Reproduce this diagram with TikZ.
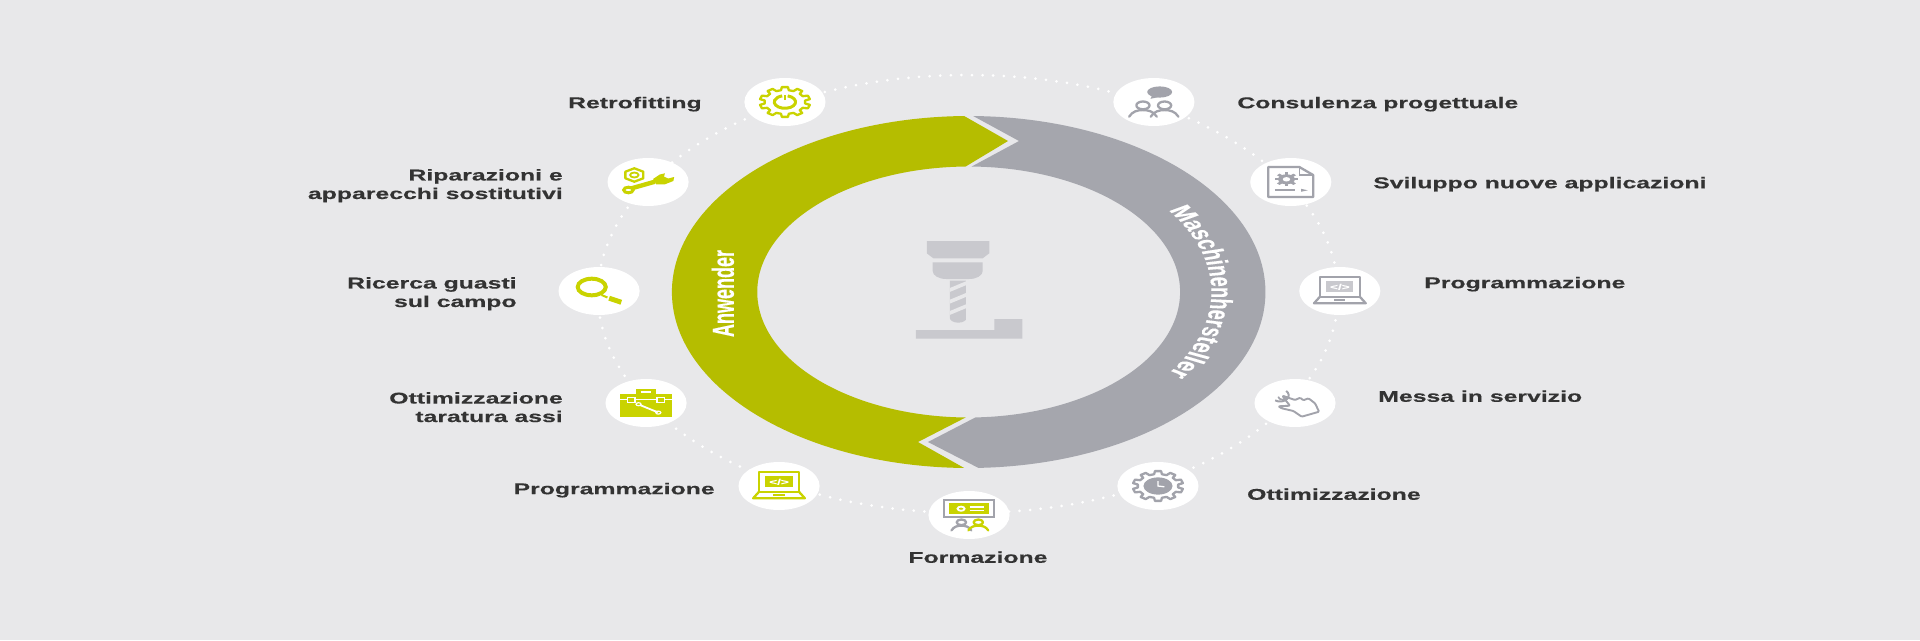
\documentclass[tikz,border=0pt]{standalone}
\usepackage{fontspec}
\setmainfont[BoldFeatures={FakeBold=0.3}]{Liberation Sans}
\usetikzlibrary{decorations.text}
\definecolor{bgcol}{HTML}{E8E8EA}
\definecolor{ringgreen}{HTML}{B5BD00}
\definecolor{ringgray}{HTML}{A5A6AD}
\definecolor{icongreen}{HTML}{C9D300}
\definecolor{icongray}{HTML}{A2A3AB}
\definecolor{millgray}{HTML}{C9C9CE}
\definecolor{labeltext}{HTML}{333333}
\tikzset{
  every node/.style={transform shape},
  icondisc/.style={circle,fill=white,inner sep=0pt,minimum size=48pt},
  itemlabel/.style={font=\bfseries\fontsize{15.6}{18.5}\selectfont,text=labeltext,inner sep=0pt,xscale=0.94},
  iconline/.style={line width=2.3pt,line join=round},
  dotring/.style={white,line width=3pt,line cap=round,dash pattern=on 0pt off 10.6pt}
}
% gear outline, ten teeth
\newcommand{\gearshape}[2]{\draw[iconline,#1] (90-11:#2*0.8) \foreach \a in {90,126,...,414} {-- ({\a-11}:#2*0.8) -- ({\a-7}:#2) -- ({\a+7}:#2) -- ({\a+11}:#2*0.8)} -- cycle;}
% laptop: node name, outline colour, panel colour
\newcommand{\laptopicon}[3]{
  \begin{scope}[shift={(#1)}]
    \draw[iconline,#2] (-11.8,-5.7) rectangle (11.8,13.7);
    \fill[#3] (-8,-1.3) rectangle (8,9.6);
    \draw[iconline,#2] (-11.8,-5.7) -- (-15.3,-12.3) -- (15.3,-12.3) -- (11.8,-5.7);
    \draw[iconline,#2] (-3.3,-8.8) -- (3.3,-8.8);
    \node[font=\bfseries\fontsize{8}{8}\selectfont,text=white,inner sep=0pt] (#1code) at (0,4.1) {</>};
  \end{scope}
}
% person: x, y of the head, colour, head radius
\newcommand{\personicon}[4]{
  \draw[iconline,#3] (#1,#2) circle (#4);
  \draw[iconline,#3,line cap=round] (#1-2.1*#4,#2-2.9*#4) .. controls (#1-1.6*#4,#2-1.5*#4) and (#1-0.8*#4,#2-1.2*#4) .. (#1,#2-1.2*#4) .. controls (#1+0.8*#4,#2-1.2*#4) and (#1+1.6*#4,#2-1.5*#4) .. (#1+2.1*#4,#2-2.9*#4);
}
\begin{document}
\begin{tikzpicture}[x=1pt,y=1pt,xscale=1.69]
    % background
    \fill[bgcol] (-572.78,292) rectangle (563.31,-348);
    \useasboundingbox (-572.78,292) rectangle (563.31,-348);
    \draw[dotring] (0,-2) circle (219);
    % the two arrows
    \fill[ringgreen,shift={(0.8,0)}] (91:176) -- (22.9,151) -- (91:125.5) arc (91:269:125.5) -- (-30.4,-150) -- (269:176) arc (269:91:176) -- cycle;
    \fill[ringgray] (89:176) -- (30.2,151) -- (89:125.5) arc (89:-88:125.5) -- (-23.7,-150) -- (-88:176) arc (-88:89:176) -- cycle;
    \node[font=\bfseries\fontsize{18}{18}\selectfont,text=white,rotate=90,inner sep=0pt] (anwender) at (-145,-1.5) {Anwender};
    \begin{scope}[xscale=0.5917,transform canvas={xscale=1.69}]
      \path[decorate,decoration={text along path,text align=center,
        text={|\bfseries\fontsize{18}{18}\selectfont\color{white}|Maschinenhersteller}}] (38:144) arc (38:-38:144);
    \end{scope}
    % milling tool in the middle
    \fill[millgray] (-24.4,51) -- (12.6,51) -- (12.6,38.7) -- (8.7,33.7) -- (-20.5,33.7) -- (-24.4,38.7) -- cycle;
    \fill[millgray] (-20.9,29.7) -- (8.7,29.7) -- (8.7,21) arc (0:-90:8) -- (-12.9,13) arc (270:180:8) -- cycle;
    \begin{scope}
      \clip (-10.8,11.3) -- (-0.8,11.3) -- (-0.8,-25.7) arc (0:-90:5) -- (-5.8,-30.7) arc (270:180:5) -- cycle;
      \fill[millgray] (-11,-31) rectangle (-0.5,12);
      \foreach \y in {2,-9.7,-21} {\draw[bgcol,line width=3.6pt] (-12.8,\y-1.4) -- (1.2,\y+8.4);}
    \end{scope}
    \fill[millgray] (-30.8,-46.7) -- (32.1,-46.7) -- (32.1,-27) -- (15.6,-27) -- (15.6,-38) -- (-30.8,-38) -- cycle;
    % icon discs
    \node[icondisc] (retro) at (-108.3,190) {};
    \node[icondisc] (repair) at (-189.3,110) {};
    \node[icondisc] (search) at (-218.3,1) {};
    \node[icondisc] (tuning) at (-190.5,-111) {};
    \node[icondisc] (proga) at (-111.8,-194) {};
    \node[icondisc] (training) at (0.6,-223) {};
    \node[icondisc] (optim) at (112.4,-194) {};
    \node[icondisc] (startup) at (193.5,-111) {};
    \node[icondisc] (progb) at (220,1) {};
    \node[icondisc] (develop) at (191,110) {};
    \node[icondisc] (consult) at (110,190) {};
    % labels
    \node[itemlabel,anchor=east] (retrotext) at (-157.4,187.8) {Retrofitting};
    \node[itemlabel,anchor=east,align=right] (repairtext) at (-239.6,106.3) {Riparazioni e\\apparecchi sostitutivi};
    \node[itemlabel,anchor=east,align=right] (searchtext) at (-266.9,-1.7) {Ricerca guasti\\sul campo};
    \node[itemlabel,anchor=east,align=right] (tuningtext) at (-239.6,-115.2) {Ottimizzazione\\taratura assi};
    \node[itemlabel,anchor=east] (progatext) at (-149.7,-198.2) {Programmazione};
    \node[itemlabel] (trainingtext) at (5.9,-265.2) {Formazione};
    \node[itemlabel,anchor=west] (optimtext) at (165,-202.2) {Ottimizzazione};
    \node[itemlabel,anchor=west] (startuptext) at (242.6,-104.2) {Messa in servizio};
    \node[itemlabel,anchor=west] (progbtext) at (269.8,7.8) {Programmazione};
    \node[itemlabel,anchor=west] (developtext) at (239.6,107.8) {Sviluppo nuove applicazioni};
    \node[itemlabel,anchor=west] (consulttext) at (159.2,187.8) {Consulenza progettuale};
    % retrofitting gear
    \begin{scope}[shift={(retro)}]
      \gearshape{icongreen}{15}
      \draw[icongreen,line width=3pt] (75:6.3) arc (75:-255:6.3);
      \draw[icongreen,line width=2.4pt] (0,2) -- (0,6.5);
    \end{scope}
    % nut and wrench
    \begin{scope}[shift={(repair)}]
      \draw[iconline,icongreen] (-8.1,13.7) -- (-2.8,10.3) -- (-2.8,3.7) -- (-8.1,0.3) -- (-13.4,3.7) -- (-13.4,10.3) -- cycle;
      \draw[icongreen,line width=1.8pt] (-8.1,7) circle (2.5);
      \draw[icongreen,line width=4.4pt] (-9.7,-6.3) -- (4.1,0.3);
      \draw[icongreen,line width=3pt] (-11.6,-8) circle (2.8);
      \fill[icongreen] (3,3) -- (7,7.5) -- (10,8.7) -- (9.5,5.3) -- (12,3.5) -- (15.5,5) -- (15,1) -- (10,-2.3) -- (5,-2.5) -- cycle;
    \end{scope}
    % magnifier
    \begin{scope}[shift={(search)}]
      \draw[icongreen,line width=4pt] (-4.3,4) circle (8.3);
      \draw[icongreen,line width=2pt] (1.5,-4) -- (5,-6.5);
      \draw[icongreen,line width=5pt] (6,-7.2) -- (13.2,-11.3);
    \end{scope}
    % toolbox
    \begin{scope}[shift={(tuning)}]
      \fill[icongreen] (-5.7,9) rectangle (5.7,13.7);
      \draw[white,line width=1.4pt] (-3.2,11.2) -- (3.2,11.2);
      \fill[icongreen] (-15.2,8.6) rectangle (15.3,-14);
      \draw[white,line width=1.3pt] (-15.2,3.4) -- (15.3,3.4);
      \draw[white,line width=1.4pt,fill=icongreen] (-11,0.8) rectangle (-6.6,5.8);
      \draw[white,line width=1.4pt,fill=icongreen] (6.6,0.8) rectangle (11,5.8);
      \draw[white,line width=1.8pt] (-3.6,-2) -- (7,-9.3);
      \draw[white,line width=1.2pt] (-4.4,-1.2) circle (1.5);
      \draw[white,line width=1.2pt] (7.3,-9.6) circle (1.5);
    \end{scope}
    \laptopicon{proga}{icongreen}{icongreen}
    % training screen and people
    \begin{scope}[shift={(training)}]
      \draw[icongray,line width=2.2pt] (-15,15) rectangle (15,-2);
      \fill[icongreen] (-11.8,11.6) rectangle (11.8,1);
      \draw[white,line width=1.8pt] (-4.7,6.3) circle (2.1);
      \draw[white,line width=1.4pt] (0.3,8) -- (8.8,8);
      \draw[white,line width=1.4pt] (0.3,4.6) -- (8.8,4.6);
      \personicon{-4.5}{-7.3}{icongray}{2.8}
      \personicon{5.5}{-7.3}{icongreen}{2.8}
    \end{scope}
    % gear with clock
    \begin{scope}[shift={(optim)}]
      \gearshape{icongray}{15}
      \fill[icongray] (0,0) circle (8.6);
      \draw[white,line width=1.3pt] (0,4.8) -- (0,0) -- (3.8,-0.8);
    \end{scope}
    % touching hand
    \begin{scope}[shift={(startup)}]
      \draw[icongray,line width=2pt] (-11.8,2.6) arc (235:405:5.1 and 6.2);
      \draw[icongray,line width=1.6pt] (-10,6.3) arc (180:360:2.8 and 3);
      \draw[icongray,line width=1.9pt,line join=round,rounded corners=1pt] (-7.5,7.3) -- (0,3) -- (3,5.3) -- (4.9,2.7) -- (7.9,4.7) -- (11.8,-0.3) -- (14.2,-8.7) -- (3.9,-13.7) -- (-1,-8) -- (-7.9,-5.3) -- (-9.9,-3.3) -- (-3,-2.7) -- (-5.3,2) -- cycle;
    \end{scope}
    \laptopicon{progb}{icongray}{millgray}
    % document with gear
    \begin{scope}[shift={(develop)}]
      \draw[iconline,icongray] (-13.4,15) -- (5,15) -- (13.2,7) -- (13.2,-15) -- (-13.4,-15) -- cycle;
      \draw[icongray,line width=1.5pt] (5,15) -- (5,7) -- (13.2,7);
      \foreach \a in {0,45,...,315} {\fill[icongray] (-2.6,2.7) ++(\a-14:4.6) -- ++(\a:2.4) -- ++(\a+90:2.2) -- ++(\a+180:2.4) -- cycle;}
      \fill[icongray] (-2.6,2.7) circle (5);
      \fill[white] (-2.6,2.7) circle (2.2);
      \draw[icongray,line width=2.2pt] (-9.5,-8.3) -- (2.4,-8.3);
      \fill[icongray] (6,-6.8) -- (10,-8.3) -- (6,-9.8) -- cycle;
    \end{scope}
    % consulting people and bubble
    \begin{scope}[shift={(consult)}]
      \fill[icongray] (3.4,10) circle (7.4 and 5.6);
      \fill[icongray] (-1,7) -- (-2,3.2) -- (3,5) -- cycle;
      \personicon{-6.5}{-3.4}{icongray}{3.9}
      \personicon{6.3}{-3.4}{icongray}{3.9}
    \end{scope}
\end{tikzpicture}
\end{document}
